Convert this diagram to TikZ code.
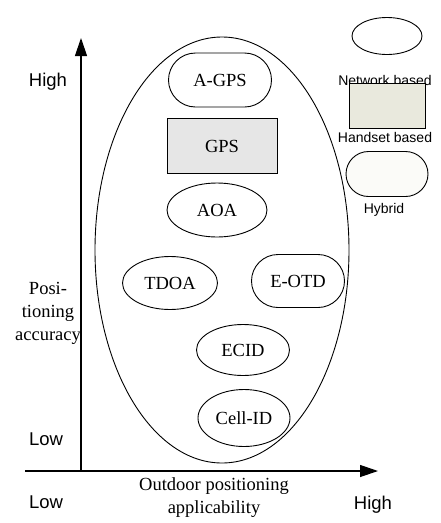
\documentclass[tikz,border=0pt]{standalone}
\usepackage{fontspec}
\setmainfont{Liberation Serif}
\newfontfamily\arialfont{Liberation Sans}
\usepackage{tikz}
\usetikzlibrary{shapes.geometric,shapes.misc}
\usetikzlibrary {arrows.meta,positioning}

\definecolor{gpsgray}{HTML}{E6E6E6}
\definecolor{handsetfill}{HTML}{E9E9DD}
\definecolor{hybridfill}{HTML}{FBFBF8}

\begin{document}
\begin{tikzpicture}[
    x=1pt, y=-1pt,
    every node/.style={inner sep=0pt, font=\fontsize{18.5}{23}\selectfont},
    netnode/.style={draw, ellipse, line width=0.9pt},
    handnode/.style={draw, rectangle, line width=0.9pt},
    hybnode/.style={draw, rounded rectangle, line width=0.9pt},
    axislabel/.style={font=\arialfont\fontsize{18.5}{22}\selectfont},
    legendlabel/.style={font=\arialfont\fontsize{14}{16}\selectfont},
    axisline/.style={line width=1.2pt, -{Triangle[length=18pt,width=12pt]}},
]
\useasboundingbox (0,0) rectangle (440,523);

% axes
\coordinate (origin) at (81,471);
\coordinate (xstart) at (25,471);
\coordinate (ytip) at (81,38);
\coordinate (xtip) at (378,471);
\draw[axisline] (origin) -- (ytip);
\draw[axisline] (xstart) -- (xtip);

% the big ellipse
\node[draw, ellipse, line width=0.9pt, minimum width=254pt, minimum height=426pt] (region) at (222,250) {};

% methods
\node[hybnode, minimum width=103pt, minimum height=54pt] (agps) at (220,80) {A-GPS};
\node[handnode, fill=gpsgray, minimum width=110pt, minimum height=55pt] (gps) at (222,146) {GPS};
\node[netnode, minimum width=100pt, minimum height=54pt] (aoa) at (217,210) {AOA};
\node[netnode, minimum width=95pt, minimum height=53pt] (tdoa) at (170,283) {TDOA};
\node[hybnode, minimum width=93pt, minimum height=53pt] (eotd) at (298,281) {E-OTD};
\node[netnode, minimum width=93pt, minimum height=51pt] (ecid) at (243,350) {ECID};
\node[netnode, minimum width=92pt, minimum height=57pt] (cellid) at (244,418) {Cell-ID};

% legend
\node[netnode, minimum width=70pt, minimum height=37pt] (legnet) at (387,36) {};
\node[legendlabel] (legnettext) at (385,80) {Network based};
\node[handnode, fill=handsetfill, minimum width=76pt, minimum height=45pt] (leghand) at (387,106) {};
\node[legendlabel] (leghandtext) at (385,137) {Handset based};
\node[hybnode, fill=hybridfill, minimum width=82pt, minimum height=45pt] (leghyb) at (387,174) {};
\node[legendlabel] (leghybtext) at (384,210) {Hybrid};

% axis texts
\node[axislabel] (yhigh) at (48,82) {High};
\node[axislabel] (ylow) at (46,439) {Low};
\node[axislabel] (xlow) at (46,502) {Low};
\node[axislabel] (xhigh) at (373,505) {High};
\node[align=center] (ytitle) at (48,313) {Posi-\\tioning\\accuracy};
\node[align=center] (xtitle) at (214,498) {Outdoor positioning\\applicability};
\end{tikzpicture}
\end{document}
